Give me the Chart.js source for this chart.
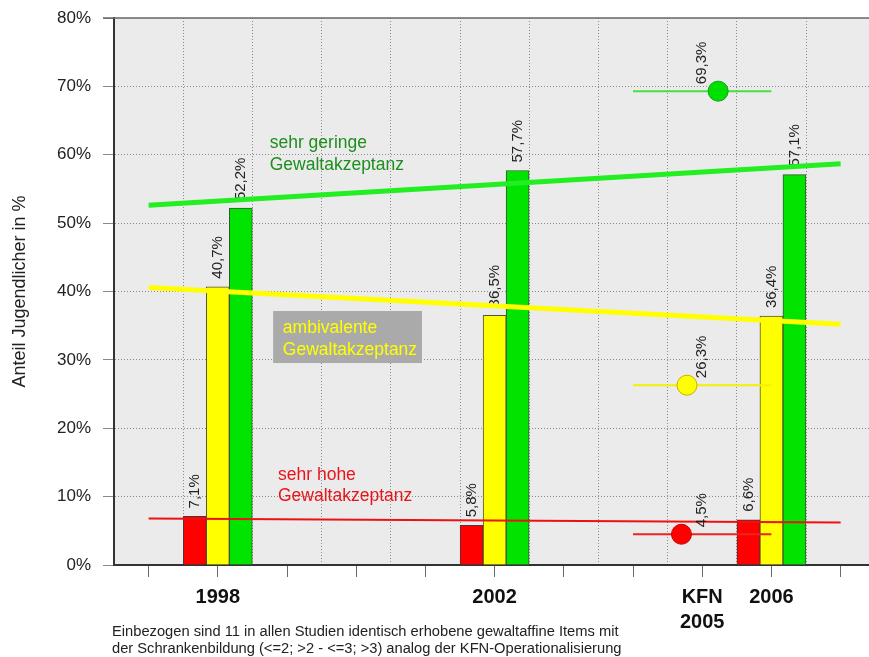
<!DOCTYPE html>
<html>
<head>
<meta charset="utf-8">
<script src="https://cdn.jsdelivr.net/npm/chart.js@4/dist/chart.umd.min.js"></script>
<style>
  html, body { margin: 0; padding: 0; background: #fff; }
  #wrap { width: 869px; height: 657px; }
</style>
</head>
<body>
<div id="wrap"><canvas id="c" width="869" height="657"></canvas></div>
<script>
// Survey years and shares (%) per level of violence acceptance
const years = [1998, 2002, 2006];
const sehrHoch = [7.1, 5.8, 6.6];
const ambivalent = [40.7, 36.5, 36.4];
const sehrGering = [52.2, 57.7, 57.1];

// KFN 2005 comparison (sehr gering, ambivalent, sehr hoch)
const kfnValues = [69.3, 26.3, 4.5];
const kfnDotYears = [2005.23, 2004.78, 2004.70];
const kfnLabelYear = 2005;
const kfnRange = [2004, 2006];

// Trend lines: values at start and end year
const trendYears = [1997, 2007];
const trendGering = [52.6, 58.7];
const trendAmbivalent = [40.6, 35.2];
const trendHoch = [6.8, 6.2];

// Axis labels
const xLabelYears = [1998, 2002, 2005, 2006];
const xLabels = ['1998', '2002', ['KFN', '2005'], '2006'];
const yTicks = [0, 10, 20, 30, 40, 50, 60, 70, 80];

const FONT = '"Liberation Sans", Arial, Helvetica, sans-serif';
const RED = '#ff0000', YELLOW = '#ffff00', GREEN = '#00e400';
const GRID = '#8a8a8a';

const tickYears = [];
for (let t = 1997; t <= 2007; t += 0.5) tickYears.push(t);

const fmt = v => v.toFixed(1).replace('.', ',') + '%';
const pts = (xs, ys) => xs.map((x, i) => ({ x, y: ys[i] }));

function vText(ctx, text, x, yBottom) {
  ctx.save();
  ctx.translate(x, yBottom);
  ctx.rotate(-Math.PI / 2);
  ctx.font = '15px ' + FONT;
  ctx.fillStyle = '#222';
  ctx.textAlign = 'left';
  ctx.textBaseline = 'middle';
  ctx.fillText(text, 0, 0);
  ctx.restore();
}

function textLines(ctx, lines, x, ys, color) {
  ctx.save();
  ctx.font = '17.5px ' + FONT;
  ctx.fillStyle = color;
  ctx.textAlign = 'left';
  ctx.textBaseline = 'middle';
  lines.forEach((l, i) => ctx.fillText(l, x, ys[i]));
  ctx.restore();
}

const decor = {
  id: 'decor',
  beforeDraw(chart) {
    const { ctx, chartArea: a } = chart;
    ctx.save();
    ctx.fillStyle = '#ebebeb';
    ctx.fillRect(a.left, a.top, a.right - a.left, a.bottom - a.top);
    ctx.restore();
  },
  beforeDatasetsDraw(chart) {
    const { ctx, chartArea: a, scales: { x, y } } = chart;
    // top frame line
    ctx.save();
    ctx.strokeStyle = '#666';
    ctx.lineWidth = 1.5;
    ctx.beginPath();
    ctx.moveTo(a.left - 11, a.top);
    ctx.lineTo(a.right, a.top);
    ctx.stroke();
    ctx.restore();

    // category captions
    const X = v => x.getPixelForValue(v), Y = v => y.getPixelForValue(v);
    textLines(ctx, ['sehr geringe', 'Gewaltakzeptanz'], X(1998.75), [Y(61.7), Y(58.5)], '#1e8e1e');

    ctx.save();
    ctx.fillStyle = '#aaaaaa';
    ctx.fillRect(X(1998.80), Y(37.15), X(2000.95) - X(1998.80), Y(29.54) - Y(37.15));
    ctx.restore();
    textLines(ctx, ['ambivalente', 'Gewaltakzeptanz'], X(1998.94), [Y(34.66), Y(31.44)], '#ffff00');

    textLines(ctx, ['sehr hohe', 'Gewaltakzeptanz'], X(1998.87), [Y(13.16), Y(10.09)], '#e8141c');
  },
  afterDatasetDraw(chart, args) {
    if (args.meta.type !== 'bar') return;
    const ds = chart.data.datasets[args.index];
    args.meta.data.forEach((el, i) => {
      vText(chart.ctx, fmt(ds.data[i].y), el.x, el.y - 8);
    });
  },
  afterDatasetsDraw(chart) {
    const { ctx, scales: { x, y } } = chart;
    kfnValues.forEach(v => vText(ctx, fmt(v), x.getPixelForValue(kfnLabelYear), y.getPixelForValue(v) - 7));
  },
  afterDraw(chart) {
    const ctx = chart.ctx;
    ctx.save();
    ctx.font = '14.7px ' + FONT;
    ctx.fillStyle = '#222';
    ctx.textAlign = 'left';
    ctx.textBaseline = 'middle';
    ctx.fillText('Einbezogen sind 11 in allen Studien identisch erhobene gewaltaffine Items mit', 112, 632);
    ctx.fillText('der Schrankenbildung (<=2; >2 - <=3; >3) analog der KFN-Operationalisierung', 112, 649);
    ctx.restore();
  }
};

const isYear = c => c.tick && Number.isInteger(c.tick.value);

new Chart(document.getElementById('c'), {
  type: 'bar',
  data: {
    datasets: [
      { type: 'bar', label: 'sehr hohe Gewaltakzeptanz', data: pts(years, sehrHoch),
        backgroundColor: RED, borderColor: '#553333', borderWidth: 1, barThickness: 23, order: 3 },
      { type: 'bar', label: 'ambivalente Gewaltakzeptanz', data: pts(years, ambivalent),
        backgroundColor: YELLOW, borderColor: '#555533', borderWidth: 1, barThickness: 23, order: 3 },
      { type: 'bar', label: 'sehr geringe Gewaltakzeptanz', data: pts(years, sehrGering),
        backgroundColor: GREEN, borderColor: '#335533', borderWidth: 1, barThickness: 23, order: 3 },

      { type: 'line', label: 'Trend sehr gering', data: pts(trendYears, trendGering),
        borderColor: '#22ee22', borderWidth: 5, pointRadius: 0, tension: 0, order: 2 },
      { type: 'line', label: 'Trend ambivalent', data: pts(trendYears, trendAmbivalent),
        borderColor: '#ffff00', borderWidth: 5, pointRadius: 0, tension: 0, order: 2 },
      { type: 'line', label: 'Trend sehr hoch', data: pts(trendYears, trendHoch),
        borderColor: '#ee1111', borderWidth: 2, pointRadius: 0, tension: 0, order: 2 },

      { type: 'line', label: 'KFN Spanne gering', data: kfnRange.map(x => ({ x, y: kfnValues[0] })),
        borderColor: '#44e044', borderWidth: 2, pointRadius: 0, order: 1 },
      { type: 'line', label: 'KFN Spanne ambivalent', data: kfnRange.map(x => ({ x, y: kfnValues[1] })),
        borderColor: '#f4f000', borderWidth: 2, pointRadius: 0, order: 1 },
      { type: 'line', label: 'KFN Spanne hoch', data: kfnRange.map(x => ({ x, y: kfnValues[2] })),
        borderColor: '#ee2222', borderWidth: 2, pointRadius: 0, order: 1 },

      { type: 'scatter', label: 'KFN 2005', data: pts(kfnDotYears, kfnValues),
        pointRadius: 10, pointHoverRadius: 10,
        backgroundColor: ['#00e000', '#ffff00', '#ff0000'],
        borderColor: ['#12a012', '#c8b400', '#cc0000'], borderWidth: 1, order: 0 }
    ]
  },
  options: {
    responsive: false,
    animation: false,
    devicePixelRatio: 1,
    layout: { autoPadding: false, padding: { top: 18, left: 0, right: 0, bottom: 0 } },
    plugins: { legend: { display: false }, tooltip: { enabled: false } },
    scales: {
      x: {
        type: 'linear', min: 1996.5, max: 2007.41, offset: false,
        afterBuildTicks: s => { s.ticks = tickYears.map(v => ({ value: v })); },
        afterFit: s => { s.height = 92; s.paddingLeft = 0; s.paddingRight = 0; },
        ticks: {
          autoSkip: false, maxRotation: 0, minRotation: 0, padding: 8, color: '#111',
          font: { family: FONT, size: 20, weight: 'bold', lineHeight: 1.25 },
          callback: v => { const i = xLabelYears.indexOf(v); return i < 0 ? '' : xLabels[i]; }
        },
        grid: {
          offset: false,
          color: c => isYear(c) ? 'transparent' : GRID,
          tickColor: c => isYear(c) ? '#6a6a6a' : 'transparent',
          tickLength: 12, lineWidth: 1
        },
        border: { color: '#333', width: 2, dash: [1, 2] }
      },
      y: {
        min: 0, max: 80,
        afterBuildTicks: s => { s.ticks = yTicks.map(v => ({ value: v })); },
        afterFit: s => { s.width = 114; s.paddingTop = 0; s.paddingBottom = 0; },
        ticks: { padding: 12, color: '#222', font: { family: FONT, size: 17 }, callback: v => v + '%' },
        grid: {
          color: c => (c.tick && (c.tick.value === 0 || c.tick.value === 80)) ? 'transparent' : GRID,
          tickColor: '#8a8a8a', tickLength: 11
        },
        border: { color: '#333', width: 2, dash: [1, 2] },
        title: {
          display: true, text: 'Anteil Jugendlicher in %', color: '#222',
          font: { family: FONT, size: 18 }, padding: { top: 9, bottom: 0 }
        }
      }
    }
  },
  plugins: [decor]
});
</script>
</body>
</html>
